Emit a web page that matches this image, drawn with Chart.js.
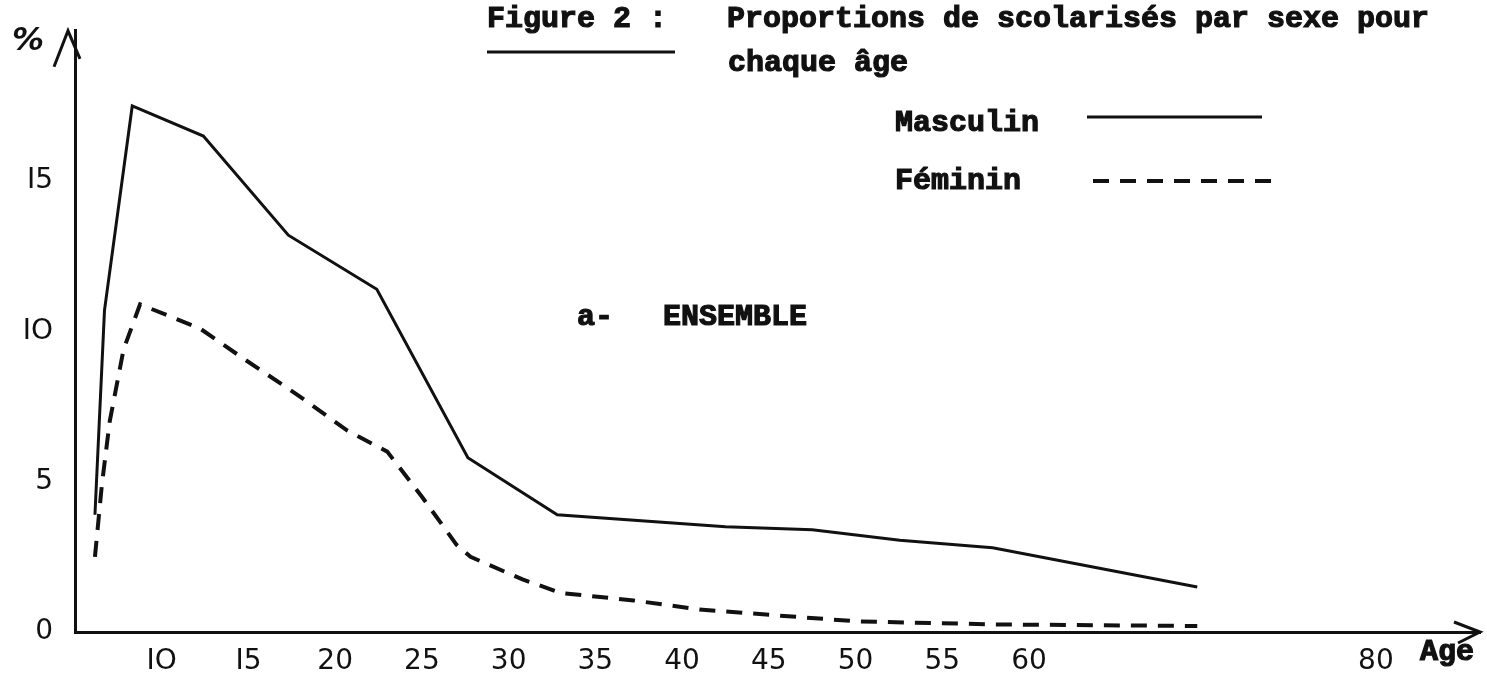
<!DOCTYPE html>
<html>
<head>
<meta charset="utf-8">
<script src="https://cdn.jsdelivr.net/npm/chart.js@4.4.1/dist/chart.umd.min.js"></script>
<style>
  html, body { margin: 0; padding: 0; background: #fff; }
  canvas { display: block; }
</style>
</head>
<body>
<canvas id="myChart" width="1487" height="675"></canvas>
<script>
// Masculin (trait plein)
const masculinAge = [6.15, 6.7, 8.3, 12.4, 17.3, 22.4, 27.65, 32.8, 42.5, 47.5, 52.55, 57.9, 69.7];
const masculinPct = [3.9, 10.7, 17.5, 16.5, 13.2, 11.4, 5.8, 3.9, 3.5, 3.4, 3.05, 2.8, 1.5];

// Féminin (tirets)
const femininAge = [6.15, 6.55, 7.0, 7.8, 8.75, 12.2, 14.7, 17.8, 20.7, 23.0, 25.0, 27.0, 27.8, 30.8, 33.0, 37.2, 41.0, 45.5, 50.2, 58.3, 69.7];
const femininPct = [2.5, 4.9, 7.0, 9.4, 10.9, 10.1, 9.1, 7.9, 6.7, 6.0, 4.5, 2.9, 2.5, 1.75, 1.3, 1.05, 0.75, 0.55, 0.35, 0.25, 0.2];

// graduations
const xTickValues = [10, 15, 20, 25, 30, 35, 40, 45, 50, 55, 60, 80];
const xTickLabels = ["IO", "I5", "20", "25", "30", "35", "40", "45", "50", "55", "60", "80"];
const yTickValues = [0, 5, 10, 15];
const yTickLabels = ["0", "5", "IO", "I5"];

const ink = "#111";

function toPoints(xs, ys) {
  return xs.map((x, i) => ({ x: x, y: ys[i] }));
}

// texte "machine a ecrire" un peu plus gras
function typeText(ctx, txt, x, y) {
  ctx.fillText(txt, x, y);
  ctx.strokeText(txt, x, y);
}

// titre, légende, flèches
const decor = {
  id: "decor",
  beforeDraw(chart) {
    const ctx = chart.ctx;
    ctx.save();
    ctx.fillStyle = "#fff";
    ctx.fillRect(0, 0, chart.width, chart.height);
    ctx.restore();
  },
  afterDraw(chart) {
    const ctx = chart.ctx;
    const area = chart.chartArea;
    const mono = 'bold 30px "Liberation Mono", "DejaVu Sans Mono", monospace';
    ctx.save();
    ctx.fillStyle = ink;
    ctx.strokeStyle = ink;
    ctx.textBaseline = "alphabetic";
    ctx.textAlign = "left";

    // titre
    ctx.font = mono;
    ctx.lineWidth = 1.2;
    typeText(ctx, "Figure 2 :", 487, 27);
    typeText(ctx, "Proportions de scolarisés par sexe pour", 727, 27);
    typeText(ctx, "chaque âge", 728, 71);
    ctx.lineWidth = 3;
    ctx.beginPath();
    ctx.moveTo(487, 52);
    ctx.lineTo(675, 52);
    ctx.stroke();

    // légende
    const ds = chart.data.datasets;
    ctx.lineWidth = 1.2;
    typeText(ctx, ds[0].label, 895, 131);
    typeText(ctx, ds[1].label, 895, 189);
    ctx.lineWidth = ds[0].borderWidth;
    ctx.setLineDash(ds[0].borderDash || []);
    ctx.beginPath();
    ctx.moveTo(1087, 117);
    ctx.lineTo(1262, 117);
    ctx.stroke();
    ctx.lineWidth = ds[1].borderWidth;
    ctx.setLineDash(ds[1].borderDash);
    ctx.beginPath();
    ctx.moveTo(1093, 181);
    ctx.lineTo(1282, 181);
    ctx.stroke();
    ctx.setLineDash([]);

    ctx.lineWidth = 1.2;
    typeText(ctx, "a-", 577, 325);
    typeText(ctx, "ENSEMBLE", 663, 325);

    // axes : % et Age
    ctx.font = 'italic bold 32px "DejaVu Sans", sans-serif';
    ctx.fillText("%", 12, 50);
    ctx.font = mono;
    typeText(ctx, "Age", 1420, 660);

    // flèches
    ctx.lineWidth = 3;
    ctx.lineJoin = "miter";
    ctx.beginPath();
    ctx.moveTo(area.left - 21, area.top + 36);
    ctx.lineTo(area.left - 7, area.top);
    ctx.lineTo(area.left + 5, area.top + 28);
    ctx.stroke();
    ctx.beginPath();
    ctx.moveTo(area.right - 26, area.bottom - 10);
    ctx.lineTo(area.right, area.bottom);
    ctx.lineTo(area.right - 22, area.bottom + 11);
    ctx.stroke();
    ctx.restore();
  },
};

const data = {
  datasets: [
    {
      label: "Masculin",
      data: toPoints(masculinAge, masculinPct),
      borderColor: ink,
      borderWidth: 3,
      pointRadius: 0,
      tension: 0,
      fill: false,
    },
    {
      label: "Féminin",
      data: toPoints(femininAge, femininPct),
      borderColor: ink,
      borderWidth: 4,
      borderDash: [16, 11],
      pointRadius: 0,
      tension: 0,
      fill: false,
    },
  ],
};

const config = {
  type: "line",
  data: data,
  options: {
    responsive: false,
    animation: false,
    layout: { padding: { top: 20, right: 7, left: 0, bottom: 0 } },
    plugins: {
      legend: { display: false },
      tooltip: { enabled: false },
      title: { display: false },
    },
    scales: {
      x: {
        type: "linear",
        min: 5,
        max: 86,
        grid: { display: false },
        border: { display: true, color: ink, width: 3 },
        afterBuildTicks(scale) {
          scale.ticks = xTickValues.map((v) => ({ value: v }));
        },
        afterFit(scale) {
          scale.height = 43;
        },
        ticks: {
          autoSkip: false,
          maxRotation: 0,
          padding: 5,
          color: ink,
          font: { family: '"DejaVu Sans", sans-serif', size: 28 },
          callback: function (value) {
            const i = xTickValues.indexOf(value);
            return i >= 0 ? xTickLabels[i] : "";
          },
        },
      },
      y: {
        type: "linear",
        min: 0,
        max: 20,
        grid: { display: false },
        border: { display: true, color: ink, width: 3 },
        afterBuildTicks(scale) {
          scale.ticks = yTickValues.map((v) => ({ value: v }));
        },
        afterFit(scale) {
          scale.width = 75;
        },
        ticks: {
          autoSkip: false,
          padding: 14,
          color: ink,
          font: { family: '"DejaVu Sans", sans-serif', size: 28 },
          callback: function (value) {
            const i = yTickValues.indexOf(value);
            return i >= 0 ? yTickLabels[i] : "";
          },
        },
      },
    },
  },
  plugins: [decor],
};

const myChart = new Chart(document.getElementById("myChart"), config);
</script>
</body>
</html>
